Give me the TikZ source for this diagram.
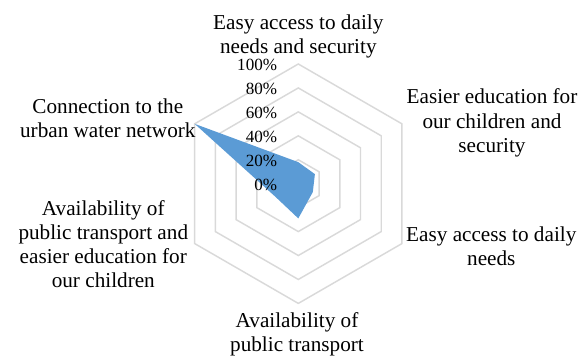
\documentclass[tikz,border=0pt]{standalone}
\usepackage{fontspec}
\setmainfont{Liberation Serif}
\definecolor{gridgray}{RGB}{217,217,217}
\definecolor{fillblue}{RGB}{91,155,213}
\begin{document}
\begin{tikzpicture}[x=0.75pt,y=-0.75pt,
  gridline/.style={draw=gridgray,line width=1.1pt,line join=miter},
  axislabel/.style={inner sep=0pt,anchor=base,font=\fontsize{15.9}{18}\selectfont},
  pctlabel/.style={inner sep=0pt,anchor=base east,font=\fontsize{12.8}{14}\selectfont}]
\useasboundingbox (0,0) rectangle (588,356);
\def\R{119.7}
\begin{scope}[shift={(298.3,183.7)}]
  \foreach \k in {1,...,5}{
    \pgfmathsetmacro\r{\R*\k/5}
    \draw[gridline] (-90:\r) -- (-30:\r) -- (30:\r) -- (90:\r) -- (150:\r) -- (210:\r) -- cycle;
  }
  \fill[fillblue] (-90:{0.18*\R}) -- (-30:{0.16*\R}) -- (30:{0.14*\R}) -- (90:{0.29*\R}) -- (150:{0.22*\R}) -- (210:\R) -- cycle;
\end{scope}
\foreach \k/\t in {0/0\%,1/20\%,2/40\%,3/60\%,4/80\%,5/100\%}{
  \node[pctlabel] (p\k) at (277.3,{190.2-23.94*\k}) {\t};
}
\node[axislabel] (top) at (298.3,29.3) {\begin{tabular}[t]{@{}c@{}}Easy access to daily\\needs and security\end{tabular}};
\node[axislabel] (ur) at (492,104) {\begin{tabular}[t]{@{}c@{}}Easier education for\\our children and\\security\end{tabular}};
\node[axislabel] (lr) at (491.3,241.7) {\begin{tabular}[t]{@{}c@{}}Easy access to daily\\needs\end{tabular}};
\node[axislabel] (bot) at (297,327.3) {\begin{tabular}[t]{@{}c@{}}Availability of\\public transport\end{tabular}};
\node[axislabel] (ll) at (103.3,215) {\begin{tabular}[t]{@{}c@{}}Availability of\\public transport and\\easier education for\\our children\end{tabular}};
\node[axislabel] (ul) at (107.8,113.3) {\begin{tabular}[t]{@{}c@{}}Connection to the\\urban water network\end{tabular}};
\end{tikzpicture}
\end{document}
